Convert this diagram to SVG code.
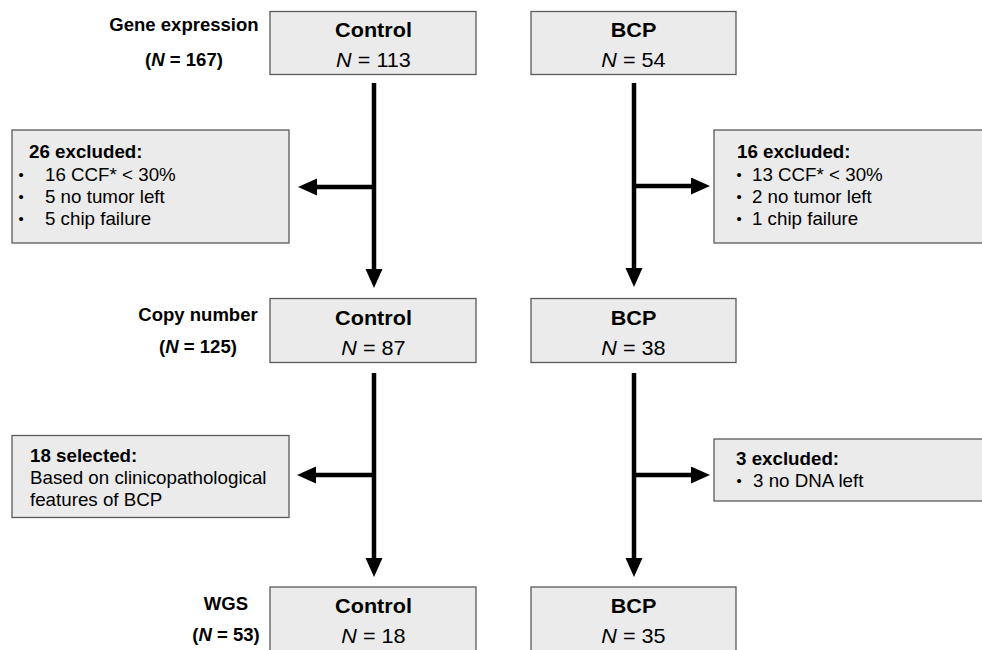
<svg xmlns="http://www.w3.org/2000/svg" width="982" height="650" viewBox="0 0 982 650">
<defs>
<style>
.box{fill:#ebebeb;stroke:#5a5a5a;stroke-width:1.3}
.conn{stroke:#000;stroke-width:4.5;fill:none;stroke-linecap:butt}
text{font-family:"Liberation Sans",Arial,Helvetica,sans-serif;fill:#000}
.title{font-size:20.4px;font-weight:bold;text-anchor:middle}
.num{font-size:20.4px;text-anchor:middle}
.lab{font-size:17.5px;font-weight:bold;text-anchor:middle}
.hd{font-size:17.7px;font-weight:bold}
.bd{font-size:17.7px}
.bl{font-size:14px}
.it{font-style:italic}
</style>
<marker id="ah" markerUnits="userSpaceOnUse" markerWidth="20" markerHeight="18" refX="0" refY="8.5" orient="auto">
<path d="M0,0 L19,8.5 L0,17 z" fill="#000"/>
</marker>
</defs>
<rect width="982" height="650" fill="#fff"/>

<g id="connectors">
<path class="conn" d="M374,83 V269" marker-end="url(#ah)"/>
<path class="conn" d="M374,187 H317" marker-end="url(#ah)"/>
<path class="conn" d="M634,83 V268" marker-end="url(#ah)"/>
<path class="conn" d="M634,186 H691" marker-end="url(#ah)"/>
<path class="conn" d="M374,373 V558" marker-end="url(#ah)"/>
<path class="conn" d="M374,475 H316" marker-end="url(#ah)"/>
<path class="conn" d="M634,373 V558" marker-end="url(#ah)"/>
<path class="conn" d="M634,475 H691" marker-end="url(#ah)"/>
</g>

<g id="label-gene">
<g transform="scale(1.06 1)">
<text class="lab" x="173.58" y="31">Gene expression</text>
<text class="lab" x="173.58" y="66">(<tspan class="it">N</tspan> = 167)</text>
</g>
</g>
<g id="label-copy">
<g transform="scale(1.06 1)">
<text class="lab" x="186.79" y="321">Copy number</text>
<text class="lab" x="186.79" y="353">(<tspan class="it">N</tspan> = 125)</text>
</g>
</g>
<g id="label-wgs">
<g transform="scale(1.06 1)">
<text class="lab" x="213.21" y="610">WGS</text>
<text class="lab" x="213.21" y="641">(<tspan class="it">N</tspan> = 53)</text>
</g>
</g>

<g id="control-ge">
<rect class="box" x="270" y="11.5" width="206" height="63"/>
<g transform="scale(1.06 1)">
<text class="title" x="352.36" y="37">Control</text>
<text class="num" x="352.36" y="67.5"><tspan class="it">N</tspan> = 113</text>
</g>
</g>
<g id="bcp-ge">
<rect class="box" x="531" y="11.5" width="205" height="63"/>
<g transform="scale(1.06 1)">
<text class="title" x="597.64" y="37">BCP</text>
<text class="num" x="597.64" y="67.5"><tspan class="it">N</tspan> = 54</text>
</g>
</g>

<g id="excl-control-1">
<rect class="box" x="12" y="130" width="277" height="113"/>
<g transform="scale(1.06 1)">
<text class="hd" x="27.36" y="158">26 excluded:</text>
<text class="bl" x="17.5" y="180">•</text><text class="bd" x="42.45" y="181">16 CCF* &lt; 30%</text>
<text class="bl" x="17.5" y="202">•</text><text class="bd" x="42.45" y="203">5 no tumor left</text>
<text class="bl" x="17.5" y="224">•</text><text class="bd" x="42.45" y="225">5 chip failure</text>
</g>
</g>
<g id="excl-bcp-1">
<rect class="box" x="714" y="130" width="280" height="113"/>
<g transform="scale(1.06 1)">
<text class="hd" x="695.28" y="158">16 excluded:</text>
<text class="bl" x="694.8" y="180">•</text><text class="bd" x="709.43" y="181">13 CCF* &lt; 30%</text>
<text class="bl" x="694.8" y="202">•</text><text class="bd" x="709.43" y="203">2 no tumor left</text>
<text class="bl" x="694.8" y="224">•</text><text class="bd" x="709.43" y="225">1 chip failure</text>
</g>
</g>

<g id="control-cn">
<rect class="box" x="270" y="298.5" width="206" height="64"/>
<g transform="scale(1.06 1)">
<text class="title" x="352.36" y="325">Control</text>
<text class="num" x="352.36" y="355"><tspan class="it">N</tspan> = 87</text>
</g>
</g>
<g id="bcp-cn">
<rect class="box" x="531" y="298.5" width="205" height="64"/>
<g transform="scale(1.06 1)">
<text class="title" x="597.64" y="325">BCP</text>
<text class="num" x="597.64" y="355"><tspan class="it">N</tspan> = 38</text>
</g>
</g>

<g id="sel-control-2">
<rect class="box" x="12" y="435.5" width="277" height="82"/>
<g transform="scale(1.06 1)">
<text class="hd" x="28.3" y="462">18 selected:</text>
<text class="bd" x="28.3" y="484.5">Based on clinicopathological</text>
<text class="bd" x="28.3" y="506.5">features of BCP</text>
</g>
</g>
<g id="excl-bcp-2">
<rect class="box" x="714" y="439" width="280" height="62"/>
<g transform="scale(1.06 1)">
<text class="hd" x="694.34" y="465.5">3 excluded:</text>
<text class="bl" x="694.8" y="486">•</text><text class="bd" x="710.38" y="487">3 no DNA left</text>
</g>
</g>

<g id="control-wgs">
<rect class="box" x="270" y="587" width="206" height="70"/>
<g transform="scale(1.06 1)">
<text class="title" x="352.36" y="613">Control</text>
<text class="num" x="352.36" y="643.5"><tspan class="it">N</tspan> = 18</text>
</g>
</g>
<g id="bcp-wgs">
<rect class="box" x="531" y="587" width="205" height="70"/>
<g transform="scale(1.06 1)">
<text class="title" x="597.64" y="613">BCP</text>
<text class="num" x="597.64" y="643.5"><tspan class="it">N</tspan> = 35</text>
</g>
</g>
</svg>
